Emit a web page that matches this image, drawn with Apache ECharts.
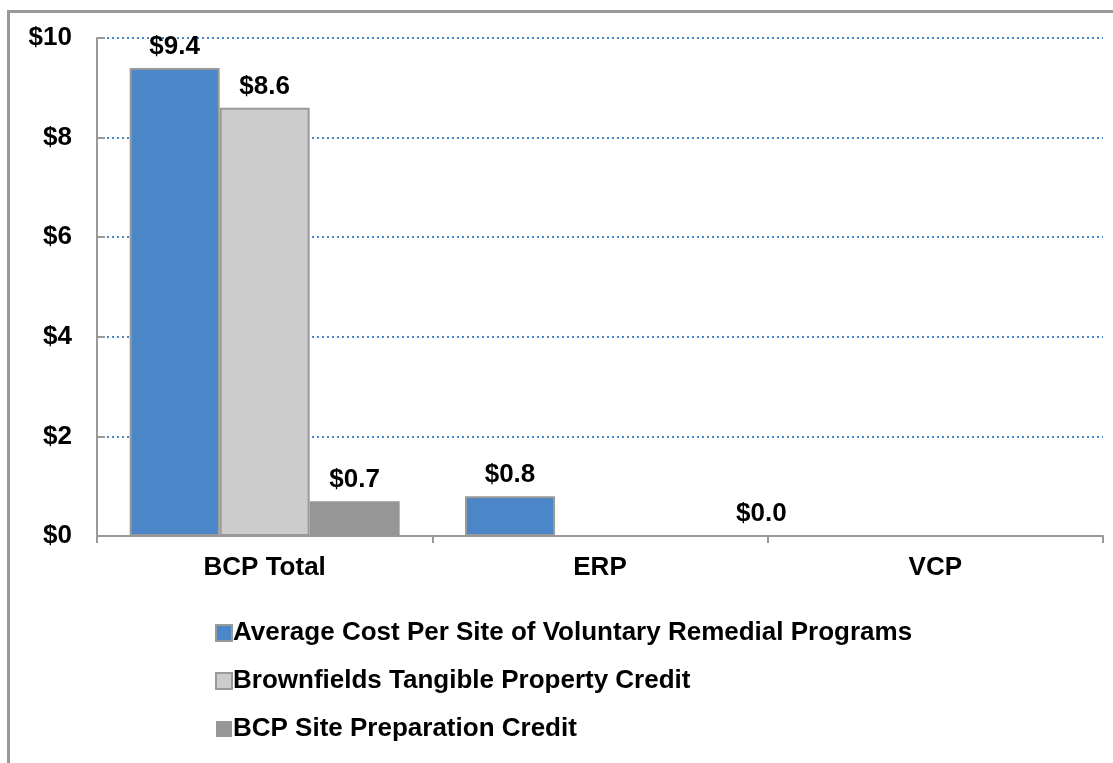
<!DOCTYPE html>
<html>
<head>
<meta charset="utf-8">
<script src="https://cdn.jsdelivr.net/npm/echarts@6/dist/echarts.min.js"></script>
<style>
html,body{margin:0;padding:0;background:#fff;}
#chart{width:1113px;height:763px;}
</style>
</head>
<body>
<div id="chart"></div>
<script>
var categories = ['BCP Total', 'ERP', 'VCP'];
var seriesNames = [
  'Average Cost Per Site of Voluntary Remedial Programs',
  'Brownfields Tangible Property Credit',
  'BCP Site Preparation Credit'
];
var avgCost = [9.4, 0.8, 0.0];
var tangibleCredit = [8.6, null, null];
var sitePrepCredit = [0.7, null, null];
var yTicks = [0, 2, 4, 6, 8, 10];

var FONT = '"Liberation Sans", Arial, sans-serif';
var FS = 26;
var labelStyle = {
  show: true, position: 'top', distance: 8,
  fontFamily: FONT, fontWeight: 'bold', fontSize: FS, color: '#000',
  formatter: function (p) { return p.value == null ? '' : '$' + p.value.toFixed(1); }
};

var chart = echarts.init(document.getElementById('chart'), null, {renderer: 'canvas'});
chart.setOption({
  animation: false,
  backgroundColor: '#fff',
  graphic: [{
    type: 'rect', left: 6, top: 9, silent: true,
    shape: {width: 1200, height: 1000},
    style: {fill: 'none', stroke: '#999', lineWidth: 3}
  }],
  grid: {left: 97, right: 10, top: 38, bottom: 227},
  legend: {
    orient: 'vertical', left: 210, top: 615, height: 200,
    icon: 'rect',
    itemWidth: 16, itemHeight: 16, itemGap: 22,
    textStyle: {fontFamily: FONT, fontWeight: 'bold', fontSize: FS, color: '#000', lineHeight: 26, padding: [0, 0, 0, -4]},
    data: seriesNames
  },
  xAxis: {
    type: 'category', data: categories,
    axisLine: {lineStyle: {color: '#999', width: 2}},
    axisTick: {show: true, length: 7, lineStyle: {color: '#999', width: 2}},
    axisLabel: {fontFamily: FONT, fontWeight: 'bold', fontSize: FS, color: '#000', margin: 19}
  },
  yAxis: {
    type: 'value', min: 0, max: 10, interval: 2,
    axisLine: {show: true, lineStyle: {color: '#999', width: 2}},
    axisTick: {show: true, inside: true, length: 8, lineStyle: {color: '#999', width: 2}},
    splitLine: {lineStyle: {color: '#4a86c8', width: 2, type: [2, 3]}},
    axisLabel: {
      fontFamily: FONT, fontWeight: 'bold', fontSize: FS, color: '#000', margin: 25,
      formatter: function (v) { return yTicks.indexOf(v) >= 0 ? '$' + v : ''; }
    }
  },
  series: [
    {
      name: seriesNames[0], type: 'bar', data: avgCost, barWidth: 90, barGap: '0%',
      itemStyle: {color: '#4a86c8', borderColor: '#999', borderWidth: 2},
      label: labelStyle,
      labelLayout: function (p) {
        if (p.dataIndex === 2) { return {dx: -84}; }
        return {};
      }
    },
    {
      name: seriesNames[1], type: 'bar', data: tangibleCredit, barWidth: 90, barGap: '0%',
      itemStyle: {color: '#cccccc', borderColor: '#999', borderWidth: 2},
      label: labelStyle
    },
    {
      name: seriesNames[2], type: 'bar', data: sitePrepCredit, barWidth: 90, barGap: '0%',
      itemStyle: {color: '#969696'},
      label: labelStyle
    }
  ]
});
</script>
</body>
</html>
